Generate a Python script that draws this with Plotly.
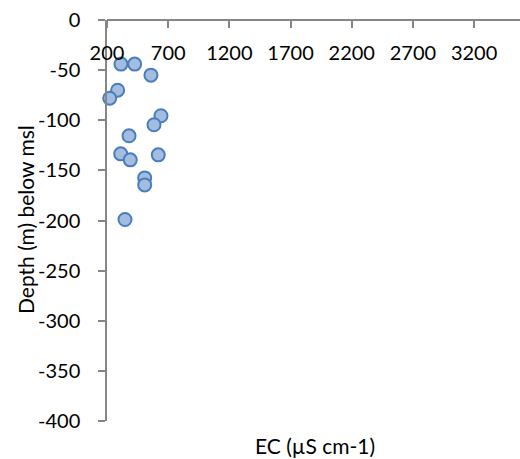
import plotly.graph_objects as go

ec_values = [314, 426, 559, 287, 222, 641, 584, 380, 312, 619, 390, 508, 508, 347]
depth_values = [-44, -44, -55, -70, -78, -95.5, -104.5, -115.5, -133.5, -134.5, -139.5, -157.5, -164.5, -199]

x_tick_vals = [200, 700, 1200, 1700, 2200, 2700, 3200]
x_tick_text = ["200", "700", "1200", "1700", "2200", "2700", "3200"]
y_tick_vals = [0, -50, -100, -150, -200, -250, -300, -350, -400]
y_tick_text = ["0", "-50", "-100", "-150", "-200", "-250", "-300", "-350", "-400"]

font_family = "Lato, Carlito, Calibri, sans-serif"
axis_color = "#868686"
FS = 20

fig = go.Figure()
fig.add_trace(go.Scatter(
    x=ec_values, y=depth_values, mode="markers",
    marker=dict(size=13, color="#a3bde0", line=dict(color="#4a7ebb", width=2)),
    showlegend=False, cliponaxis=False,
))

ML, MR, MT, MB = 107, 0, 20, 38
plot_h = 459 - MT - MB
plot_w = 520 - ML - MR

fig.update_layout(
    width=520, height=459,
    margin=dict(l=ML, r=MR, t=MT, b=MB, autoexpand=False),
    paper_bgcolor="white", plot_bgcolor="white",
    font=dict(family=font_family, size=FS, color="#000000"),
    xaxis=dict(
        range=[200, 3575], side="bottom", anchor="free", position=1,
        showgrid=False, zeroline=False, automargin=False,
        showline=True, linecolor=axis_color, linewidth=1.5,
        ticks="outside", ticklen=7, tickcolor=axis_color, tickwidth=1.5,
        tickvals=x_tick_vals, ticktext=x_tick_text,
        ticklabelstandoff=8,
    ),
    yaxis=dict(
        range=[-400, 0], showgrid=False, zeroline=False, automargin=False,
        showline=True, linecolor=axis_color, linewidth=1.5,
        ticks="outside", ticklen=7, tickcolor=axis_color, tickwidth=1.5,
        tickvals=y_tick_vals, ticktext=y_tick_text, ticklabelstandoff=14,
    ),
    annotations=[
        dict(text="EC (µS cm-1)", xref="paper", yref="paper",
             x=(315 - ML) / plot_w, y=(459 - MB - 445) / plot_h,
             xanchor="center", yanchor="middle", showarrow=False,
             font=dict(size=21)),
        dict(text="Depth (m) below msl", xref="paper", yref="paper", textangle=-90,
             x=(25 - ML) / plot_w, y=(459 - MB - 220) / plot_h,
             xanchor="center", yanchor="middle", showarrow=False,
             font=dict(size=21)),
    ],
)

fig.write_html("out.html", config={"displayModeBar": False},
               post_script="document.body.style.margin='0';document.body.style.padding='0';")
